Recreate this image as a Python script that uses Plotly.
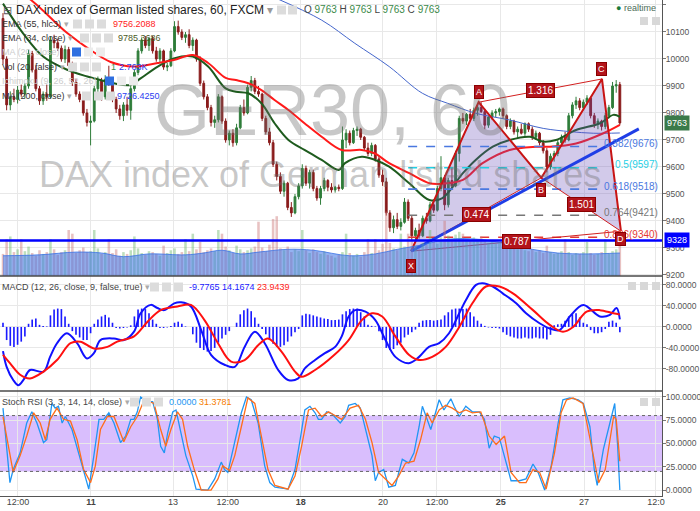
import plotly.graph_objects as go
from plotly.subplots import make_subplots

# ---------------- data ----------------
bars = list(range(170))

opens = [10150, 10000, 9830, 9860, 9850, 9885, 9870, 9900, 10020, 9960,
         9890, 9845, 9870, 9860, 10070, 10060, 10040, 10000, 10035, 9975,
         9915, 9870, 9850, 9800, 9765, 9770, 9890, 9920, 9860, 9925,
         9910, 9850, 9815, 9790, 9830, 9810, 9890, 9950, 10030, 10070,
         10050, 10075, 10030, 10000, 10030, 9970, 9975, 10030, 10120, 10100,
         10080, 10090, 10050, 10070, 10000, 9910, 9860, 9820, 9765, 9775,
         9860, 9770, 9700, 9725, 9690, 9745, 9820, 9800, 9895, 9920,
         9880, 9870, 9780, 9730, 9690, 9610, 9565, 9510, 9540, 9450,
         9430, 9490, 9530, 9595, 9540, 9580, 9520, 9485, 9520, 9550,
         9525, 9515, 9525, 9520, 9700, 9725, 9690, 9735, 9740, 9710,
         9670, 9650, 9680, 9630, 9570, 9545, 9430, 9375, 9405, 9380,
         9395, 9470, 9410, 9345, 9365, 9345, 9410, 9400, 9460, 9440,
         9520, 9560, 9460, 9550, 9530, 9650, 9780, 9770, 9795, 9780,
         9810, 9820, 9805, 9755, 9785, 9800, 9805, 9815, 9790, 9750,
         9770, 9730, 9740, 9725, 9760, 9740, 9710, 9725, 9690, 9660,
         9600, 9640, 9650, 9690, 9710, 9700, 9790, 9830, 9845, 9820,
         9840, 9855, 9790, 9760, 9770, 9750, 9790, 9820, 9900, 9905]

highs = [10170, 10010, 9880, 9890, 9900, 9905, 9910, 10035, 10030, 9975,
         9900, 9880, 9905, 10085, 10090, 10075, 10050, 10050, 10045, 9990,
         9925, 9880, 9860, 9815, 9790, 9900, 9935, 9930, 9940, 9975,
         9920, 9860, 9830, 9840, 9860, 9900, 9960, 10040, 10080, 10085,
         10080, 10085, 10045, 10040, 10035, 9985, 10040, 10140, 10142, 10110,
         10100, 10110, 10080, 10075, 10010, 9920, 9870, 9830, 9790, 9870,
         9865, 9780, 9735, 9740, 9760, 9830, 9850, 9905, 9937, 9930,
         9900, 9875, 9790, 9745, 9700, 9620, 9580, 9550, 9545, 9470,
         9500, 9540, 9610, 9605, 9590, 9590, 9530, 9530, 9560, 9555,
         9540, 9530, 9535, 9750, 9740, 9735, 9745, 9750, 9745, 9715,
         9690, 9690, 9685, 9640, 9590, 9560, 9440, 9420, 9430, 9410,
         9485, 9480, 9420, 9375, 9390, 9420, 9430, 9470, 9480, 9530,
         9640, 9570, 9560, 9600, 9660, 9790, 9800, 9800, 9815, 9820,
         9830, 9840, 9815, 9790, 9810, 9815, 9820, 9820, 9795, 9780,
         9775, 9750, 9760, 9765, 9765, 9750, 9735, 9730, 9700, 9670,
         9650, 9660, 9700, 9720, 9730, 9800, 9840, 9860, 9855, 9850,
         9866, 9860, 9800, 9780, 9775, 9800, 9830, 9915, 9922, 9915]

lows = [9980, 9810, 9810, 9840, 9835, 9860, 9855, 9890, 9950, 9880,
        9830, 9830, 9845, 9855, 10040, 10030, 9990, 9985, 9960, 9900,
        9860, 9840, 9790, 9750, 9680, 9765, 9870, 9845, 9850, 9900,
        9840, 9800, 9775, 9770, 9790, 9775, 9880, 9940, 10020, 10040,
        10030, 10020, 9990, 9985, 9960, 9955, 9970, 10025, 10090, 10070,
        10060, 10040, 10030, 9990, 9900, 9850, 9810, 9750, 9745, 9765,
        9760, 9690, 9680, 9675, 9680, 9740, 9790, 9795, 9880, 9870,
        9860, 9770, 9720, 9680, 9600, 9550, 9500, 9490, 9440, 9415,
        9425, 9480, 9520, 9530, 9520, 9510, 9475, 9460, 9510, 9510,
        9505, 9505, 9510, 9515, 9670, 9680, 9685, 9715, 9700, 9660,
        9640, 9640, 9620, 9560, 9530, 9420, 9360, 9355, 9370, 9365,
        9390, 9400, 9330, 9322, 9335, 9340, 9390, 9395, 9430, 9435,
        9510, 9440, 9450, 9520, 9525, 9620, 9760, 9755, 9770, 9770,
        9790, 9800, 9740, 9745, 9775, 9785, 9790, 9780, 9740, 9740,
        9720, 9705, 9720, 9715, 9730, 9700, 9700, 9680, 9650, 9580,
        9590, 9620, 9640, 9680, 9690, 9695, 9780, 9815, 9810, 9810,
        9830, 9780, 9745, 9740, 9735, 9740, 9780, 9815, 9875, 9755]

closes = [10000, 9830, 9860, 9850, 9885, 9870, 9900, 10020, 9960, 9890,
          9845, 9870, 9860, 10070, 10060, 10040, 10000, 10035, 9975, 9915,
          9870, 9850, 9800, 9765, 9770, 9890, 9920, 9860, 9925, 9910,
          9850, 9815, 9790, 9830, 9810, 9890, 9950, 10030, 10070, 10050,
          10075, 10030, 10000, 10030, 9970, 9975, 10030, 10120, 10100, 10080,
          10090, 10050, 10070, 10000, 9910, 9860, 9820, 9765, 9775, 9860,
          9770, 9700, 9725, 9690, 9745, 9820, 9800, 9895, 9920, 9880,
          9870, 9780, 9730, 9690, 9610, 9565, 9510, 9540, 9450, 9430,
          9490, 9530, 9595, 9540, 9580, 9520, 9485, 9520, 9550, 9525,
          9515, 9525, 9520, 9700, 9725, 9690, 9735, 9740, 9710, 9670,
          9650, 9680, 9630, 9570, 9545, 9430, 9375, 9405, 9380, 9395,
          9470, 9410, 9345, 9365, 9345, 9410, 9400, 9460, 9440, 9520,
          9560, 9460, 9550, 9530, 9650, 9780, 9770, 9795, 9780, 9810,
          9820, 9805, 9755, 9785, 9800, 9805, 9815, 9790, 9750, 9770,
          9730, 9740, 9725, 9760, 9740, 9710, 9725, 9690, 9660, 9600,
          9640, 9650, 9690, 9710, 9700, 9790, 9830, 9845, 9820, 9840,
          9855, 9790, 9760, 9770, 9750, 9790, 9820, 9900, 9905, 9763]

volume_k = [2.4, 4.0, 4.3, 2.6, 2.9, 4.0, 2.7, 3.2, 2.5, 2.2,
            2.8, 2.4, 2.6, 4.0, 2.9, 2.3, 2.6, 2.8, 5.0, 4.6,
            2.5, 2.8, 3.1, 2.6, 2.7, 5.0, 3.0, 2.4, 2.6, 4.0,
            2.5, 2.9, 2.2, 2.6, 2.4, 2.8, 4.3, 3.0, 2.5, 2.3,
            2.7, 2.6, 2.4, 2.2, 3.3, 2.5, 2.8, 3.0, 2.4, 2.6,
            4.0, 2.7, 4.6, 2.9, 3.7, 2.6, 2.8, 3.0, 2.7, 5.0,
            4.6, 3.2, 2.8, 2.5, 3.3, 2.9, 2.6, 2.8, 3.0, 3.2,
            5.9, 3.1, 2.7, 3.4, 6.2, 6.5, 3.0, 2.8, 3.2, 2.6,
            2.9, 2.7, 5.0, 2.8, 2.5, 2.9, 2.6, 2.4, 2.7, 2.3,
            2.2, 2.0, 2.3, 2.6, 4.6, 2.5, 2.2, 2.4, 2.1, 2.6,
            4.0, 2.5, 4.0, 2.8, 3.5, 7.0, 3.6, 3.0, 2.8, 4.6,
            3.2, 4.6, 3.8, 3.3, 3.0, 3.6, 3.4, 5.0, 3.7, 3.5,
            4.2, 6.0, 4.4, 4.0, 4.5, 4.8, 4.6, 4.0, 3.8, 4.2,
            4.0, 4.3, 3.9, 3.6, 3.8, 3.5, 3.7, 3.3, 3.4, 3.1,
            3.2, 2.9, 3.0, 2.8, 2.7, 2.9, 2.6, 2.8, 2.5, 3.3,
            2.6, 2.4, 2.5, 2.7, 4.0, 2.6, 2.3, 2.5, 2.4, 2.6,
            3.7, 2.5, 2.3, 2.4, 2.6, 4.0, 2.5, 2.7, 2.9, 5.0]

volma_x = [0, 10, 20, 27, 33, 40, 50, 55, 60, 65, 70, 78, 85, 95, 102, 108, 115, 122, 130, 138, 145, 152, 160, 169]
volma_y = [2.2, 2.3, 2.6, 2.5, 2.1, 2.4, 2.3, 2.5, 2.8, 2.4, 2.6, 2.9, 2.8, 2.2, 2.4, 2.9, 3.4, 4.0, 4.0, 3.5, 2.9, 2.5, 2.4, 2.5]

ema55_x = [0, 8, 17.6, 24, 29.5, 35.8, 42.4, 46.8, 52, 56.2, 61, 63.8, 67.2, 70.8, 74.4, 78.2, 82.6, 87.3,
           92.8, 98.3, 101.9, 105.8, 111.3, 116.8, 120.4, 126, 131.4, 138.8, 146, 149.9, 157, 164.5, 169]
ema55_y = [10290, 10215, 10096, 10033, 9989, 9972, 9985, 9996, 10015, 9985, 9930, 9922, 9910, 9885, 9848, 9811,
           9762, 9712, 9663, 9663, 9650, 9614, 9577, 9540, 9538, 9552, 9614, 9663, 9675, 9675, 9687, 9725, 9756]

ema34_x = [0, 5.5, 11, 17.6, 23.1, 26.7, 30.3, 35, 37.7, 42.4, 46.8, 52, 56.2, 61, 63.8, 67.2, 70.8, 74.4, 78.2,
           82.6, 87.3, 92, 93.7, 98.3, 102, 105.8, 111.3, 116.8, 120.4, 126, 129.5, 134.2, 138.8, 144.4, 147.9,
           151.5, 157, 163.6, 167.2, 169]
ema34_y = [10205, 10095, 10009, 9960, 9935, 9922, 9910, 9904, 9928, 9972, 10002, 10009, 9972, 9891, 9879, 9873,
           9836, 9762, 9700, 9663, 9626, 9589, 9614, 9638, 9626, 9601, 9540, 9478, 9485, 9577, 9626, 9675, 9700,
           9712, 9694, 9700, 9737, 9762, 9793, 9786]

ma200_x = [74, 87.3, 96.4, 105.8, 114.9, 121.8, 129.5, 138.8, 148, 155.4, 161.7, 169]
ma200_y = [10230, 10144, 10058, 9972, 9873, 9836, 9799, 9774, 9743, 9731, 9725, 9726]

macd_x = [0, 1.0, 2.8, 4.2, 5.6, 7.4, 11.1, 12.9, 14.8, 17.5, 20.3, 23.0, 24.9, 26.7, 30.4, 33.1, 35.9, 37.7,
          40.5, 42.3, 44.2, 46.9, 48.8, 51.5, 54.3, 57.0, 60.7, 63.5, 66.2, 69.0, 71.7, 75.4, 78.1, 80.9, 82.7,
          85.5, 88.2, 91.0, 92.8, 94.7, 96.5, 99.3, 102.0, 104.8, 107.5, 111.2, 114.0, 116.7, 119.5, 122.2,
          125.0, 126.8, 129.6, 131.4, 134.2, 136.9, 140.6, 143.3, 147.0, 149.8, 152.5, 155.3, 159.0, 163.5,
          166.3, 168.1, 169]
macd_y = [-46, -76, -101, -111, -101, -82, -85, -57, -31, -12, -31, -60, -50, -25, -22, -25, -9, 26, 42, 36, 32,
          45, 47, 39, -6, -53, -72, -76, -38, -9, -31, -82, -101, -98, -79, -63, -50, -38, -18, 20, 32, 29, 13,
          -25, -57, -69, -57, -38, -31, -12, 26, 51, 80, 83, 77, 64, 45, 26, 7, -3, -6, 20, 42, 20, 23, 36, 14.2]

signal_x = [0, 1.9, 4.7, 7.4, 11.1, 14.8, 18.5, 21.2, 24.9, 28.6, 31.3, 35.9, 39.6, 43.2, 47.8, 51.5, 55.2,
            58.9, 62.5, 66.2, 69.9, 72.6, 76.3, 80.0, 81.8, 85.5, 90.5, 94.7, 98.3, 101.1, 103.9, 107.5, 111.2,
            114.0, 117.6, 121.3, 125.0, 128.6, 132.3, 136.0, 139.7, 145.2, 149.8, 153.4, 156.2, 159.9, 163.5,
            167.2, 169]
signal_y = [-53, -69, -91, -98, -85, -63, -31, -28, -41, -38, -28, -18, 10, 32, 39, 42, 13, -31, -66, -63, -35,
            -22, -47, -85, -95, -82, -55, -25, 13, 26, 20, -18, -53, -63, -57, -38, 0, 45, 77, 77, 64, 32, 4,
            -9, 0, 29, 32, 26, 23.9]

macd_hist = [8, -25, -36, -38, -34, -28, -18, 6, 14, 16,
             4, 2, 1, 22, 33, 35, 34, 20, 6, -8,
             -15, -20, -25, -25, -12, 6, 14, 20, 23, 18,
             8, -2, -3, -2, -1, 3, 20, 33, 35, 34,
             26, 14, 6, -2, -2, -1, 2, 8, 10, 6,
             1, 0, -14, -30, -40, -44, -47, -46, -40, -30,
             -22, -15, -8, 0, 8, 24, 32, 35, 30, 18,
             6, -4, -14, -24, -32, -38, -38, -35, -28, -18,
             -10, -4, 22, 25, 24, 22, 20, 18, 16, 15,
             13, 13, 14, 24, 30, 34, 35, 35, 28, 20,
             4, 2, 1, -8, -25, -40, -44, -42, -35, -30,
             -20, -15, -10, -5, 8, 12, 13, 13, 12, 13,
             14, 22, 28, 33, 35, 35, 34, 35, 28, 20,
             12, 6, 2, -1, -2, -2, -3, -10, -15, -18,
             -20, -22, -22, -20, -22, -22, -20, -22, -22, -24,
             -15, 3, 5, 6, 12, 20, 24, 26, 18, 8,
             5, -6, -12, -12, -10, -4, 10, 12, 8, -10]

stoch_k_x = [0, 1.0, 1.9, 2.8, 4.7, 6.5, 7.9, 9.3, 11.1, 12.0,
             13.4, 14.3, 15.2, 16.2, 17.1, 18.9, 21.2, 22.6, 23.5, 24.9,
             26.3, 27.6, 29.0, 30.4, 32.2, 33.6, 35.0, 35.9, 36.8, 37.7,
             39.6, 41.0, 42.3, 43.2, 44.2, 45.1, 46.5, 47.4, 48.8, 50.1,
             52.0, 52.9, 56.1, 58.0, 59.8, 60.7, 61.6, 63.5, 65.3, 66.7,
             68.0, 69.9, 71.7, 73.1, 74.5, 78.1, 80.0, 81.4, 82.7, 84.1,
             85.5, 86.4, 87.3, 88.7, 90.1, 92.4, 93.8, 94.7, 96.5, 97.9,
             99.3, 101.1, 102.0, 102.9, 104.3, 105.7, 107.5, 109.4, 111.2, 112.6,
             114.0, 114.9, 116.2, 117.2, 118.5, 119.5, 120.8, 122.7, 123.6, 125.0,
             126.8, 128.6, 130.5, 131.9, 133.2, 134.6, 136.0, 137.4, 139.2, 141.5,
             143.3, 145.2, 146.6, 148.4, 150.2, 152.1, 153.4, 155.3, 157.6, 159.0,
             160.8, 162.0, 162.8, 164.5, 166.3, 167.6, 168.4, 169]
stoch_k_y = [88, 44, 8, 22, 40, 72, 84, 72, 51, 54,
             93, 88, 90, 72, 79, 65, 33, 12, 1, 37,
             76, 76, 83, 72, 51, 58, 76, 76, 84, 100,
             95, 95, 76, 47, 40, 61, 84, 86, 61, 37,
             15, 1, 0, 12, 30, 22, 19, 51, 83, 100,
             97, 72, 26, 8, 3, 1, 22, 54, 86, 90,
             83, 76, 76, 84, 82, 72, 79, 91, 93, 88,
             65, 37, 10, 19, 22, 3, 5, 33, 29, 40,
             68, 90, 76, 65, 83, 97, 86, 98, 90, 79,
             90, 84, 84, 76, 45, 58, 56, 37, 10, 10,
             12, 28, 19, 0, 26, 72, 97, 99, 97, 93,
             68, 22, 5, 44, 72, 93, 47, 0]

stoch_d_x = [0, 1.0, 2.8, 4.7, 6.5, 8.4, 10.2, 11.6, 12.9, 14.8,
             16.6, 18.5, 20.3, 22.1, 24.0, 25.3, 26.7, 28.6, 30.4, 33.1,
             35.0, 36.8, 38.7, 41.4, 43.2, 44.6, 46.0, 47.8, 49.2, 50.6,
             52.4, 54.3, 57.0, 58.9, 60.2, 62.1, 63.5, 65.3, 67.1, 69.0,
             70.8, 72.6, 74.5, 78.1, 80.0, 81.8, 83.7, 85.5, 87.3, 89.2,
             90.1, 92.8, 95.1, 97.4, 99.3, 101.1, 102.9, 104.8, 106.6, 108.4,
             110.3, 112.6, 114.4, 116.2, 117.6, 119.5, 121.3, 123.1, 125.0, 126.8,
             128.6, 130.9, 133.2, 135.1, 137.4, 139.2, 141.5, 143.3, 145.2, 147.0,
             148.8, 151.1, 152.9, 154.4, 156.2, 158.9, 161.5, 163.2, 165.0, 167.3,
             168.0, 169]
stoch_d_y = [79, 58, 19, 37, 58, 83, 72, 54, 76, 88,
             76, 74, 54, 22, 8, 26, 65, 79, 79, 52,
             68, 79, 97, 93, 65, 47, 65, 84, 76, 47,
             22, 0, 0, 12, 26, 21, 37, 68, 99, 93,
             58, 22, 5, 1, 15, 47, 86, 88, 79, 84,
             82, 76, 88, 91, 76, 51, 19, 12, 5, 15,
             29, 31, 54, 83, 72, 86, 91, 88, 83, 86,
             83, 84, 58, 49, 58, 19, 8, 8, 22, 19,
             1, 40, 83, 97, 99, 93, 40, 8, 22, 79,
             76, 31]

# harmonic XABCD pattern (bar position, price)
pattern_names = ["X", "A", "B", "C", "D"]
pattern_x = [111.8, 130.3, 147.5, 164.1, 169.3]
pattern_y = [9288, 9840, 9560, 9926, 9362]
ratio_pairs = [(0, 2, "0.474"), (1, 3, "1.316"), (2, 4, "1.501"), (0, 4, "0.787")]

fib_ratios = ["0.382", "0.5", "0.618", "0.764", "0.886"]
fib_levels = [9676, 9597, 9518, 9421, 9340]
fib_colors = ["#4a78e0", "#1fd0e6", "#4a78e0", "#777777", "#e53935"]
fib_x = [111.0, 164.4]

trend_x = [111.8, 174.2]
trend_y = [9288, 9741]

support_level = 9328
last_price = 9763

tick_pos = [4.1, 24.1, 46.6, 61.6, 81.6, 104.1, 118.9, 136.4, 159.2, 178.9]
tick_text = ["12:00", "<b>11</b>", "13", "12:00", "<b>18</b>", "20", "12:00", "<b>25</b>", "27", "12:0"]

price_ticks = [9200, 9300, 9400, 9500, 9600, 9700, 9800, 9900, 10000, 10100, 10200]
macd_ticks = [-80, -40, 0, 40, 80]
stoch_ticks = [0, 25, 50, 75, 100]

# ---------------- styling ----------------
FONT = "Liberation Sans, Arial, sans-serif"
UP = "#2f7d3a"
DN = "#8a1c1c"
GRID = "#e8e8e8"
PW, PH = 662.0, 496.0


def px(x):
    return x / PW


def py(y):
    return 1 - y / PH


D_MAIN = [1 - 276 / PH, 1.0]
D_MACD = [1 - 391 / PH, 1 - 276 / PH]
D_STOCH = [0.0, 1 - 391 / PH]

fig = make_subplots(rows=3, cols=1, shared_xaxes=True, vertical_spacing=0,
                    specs=[[{"secondary_y": True}], [{}], [{}]])

# volume + volume MA (secondary axis of the price panel)
vol_colors = ["rgba(110,185,110,0.45)" if c >= o else "rgba(205,120,120,0.45)"
              for o, c in zip(opens, closes)]
fig.add_trace(go.Bar(x=bars, y=volume_k, marker=dict(color=vol_colors, line=dict(width=0)),
                     width=0.7, hoverinfo="skip"), row=1, col=1, secondary_y=True)
fig.add_trace(go.Scatter(x=volma_x, y=volma_y, mode="lines", fill="tozeroy",
                         fillcolor="rgba(60,115,230,0.55)",
                         line=dict(color="rgba(60,115,230,0.8)", width=1, shape="spline"),
                         hoverinfo="skip"), row=1, col=1, secondary_y=True)

# candles
fig.add_trace(go.Candlestick(x=bars, open=opens, high=highs, low=lows, close=closes,
                             increasing=dict(line=dict(color=UP, width=1), fillcolor=UP),
                             decreasing=dict(line=dict(color=DN, width=1), fillcolor=DN),
                             whiskerwidth=0, hoverinfo="skip"), row=1, col=1, secondary_y=False)

# moving averages
fig.add_trace(go.Scatter(x=ma200_x, y=ma200_y, mode="lines",
                         line=dict(color="#4466cc", width=1, shape="spline")), row=1, col=1)
fig.add_trace(go.Scatter(x=ema34_x, y=ema34_y, mode="lines",
                         line=dict(color="#1e5b1e", width=2, shape="spline")), row=1, col=1)
fig.add_trace(go.Scatter(x=ema55_x, y=ema55_y, mode="lines",
                         line=dict(color="#ff1a1a", width=2, shape="spline")), row=1, col=1)

# pattern fills
tri1 = [0, 1, 2, 0]
tri2 = [2, 3, 4, 2]
for tri in (tri1, tri2):
    fig.add_trace(go.Scatter(x=[pattern_x[i] for i in tri], y=[pattern_y[i] for i in tri],
                             mode="lines", fill="toself", fillcolor="rgba(105,80,185,0.30)",
                             line=dict(width=0), hoverinfo="skip"), row=1, col=1)

# fib levels
for lvl, col in zip(fib_levels, fib_colors):
    fig.add_trace(go.Scatter(x=fib_x, y=[lvl, lvl], mode="lines",
                             line=dict(color=col, width=1.6, dash="dash")), row=1, col=1)

# pattern lines
for a, b, _ in ratio_pairs:
    fig.add_trace(go.Scatter(x=[pattern_x[a], pattern_x[b]], y=[pattern_y[a], pattern_y[b]],
                             mode="lines", line=dict(color="#d21f1f", width=1)), row=1, col=1)
fig.add_trace(go.Scatter(x=pattern_x, y=pattern_y, mode="lines",
                         line=dict(color="#c81414", width=2)), row=1, col=1)

# trend line
fig.add_trace(go.Scatter(x=trend_x, y=trend_y, mode="lines",
                         line=dict(color="#1f3ee6", width=3)), row=1, col=1)

# MACD
fig.add_trace(go.Bar(x=bars, y=macd_hist, marker=dict(color="#1a1aff", line=dict(width=0)),
                     width=0.45, hoverinfo="skip"), row=2, col=1)
fig.add_trace(go.Scatter(x=macd_x, y=macd_y, mode="lines",
                         line=dict(color="#1010ff", width=2, shape="spline")), row=2, col=1)
fig.add_trace(go.Scatter(x=signal_x, y=signal_y, mode="lines",
                         line=dict(color="#ff1010", width=2, shape="spline")), row=2, col=1)

# Stoch RSI
fig.add_trace(go.Scatter(x=stoch_k_x, y=stoch_k_y, mode="lines",
                         line=dict(color="#2196f3", width=1.3)), row=3, col=1)
fig.add_trace(go.Scatter(x=stoch_d_x, y=stoch_d_y, mode="lines",
                         line=dict(color="#ff6d1a", width=1.3)), row=3, col=1)

# ---------------- axes ----------------
fig.update_xaxes(domain=[0, 1], range=[-0.82, 180.55], tickvals=tick_pos, ticktext=tick_text,
                 showgrid=True, gridcolor=GRID, gridwidth=1, zeroline=False, automargin=False,
                 rangeslider_visible=False, showticklabels=False, showline=False)
fig.update_xaxes(row=3, col=1, showticklabels=True, ticks="", ticklen=0, ticklabelstandoff=-3,
                 showline=True, linecolor="#555", linewidth=1,
                 tickfont=dict(size=9, color="#444", family=FONT))

axis_common = dict(side="right", showgrid=True, gridcolor=GRID, zeroline=False, automargin=False,
                   ticks="outside", ticklen=3, tickcolor="#777", showline=True,
                   linecolor="#555", linewidth=1, ticklabelstandoff=-2,
                   tickfont=dict(size=8.5, color="#555", family=FONT))
fig.update_yaxes(row=1, col=1, secondary_y=False, domain=D_MAIN, range=[9196.2, 10218.5],
                 tickvals=price_ticks, ticktext=[str(v) for v in price_ticks], **axis_common)
fig.update_yaxes(row=1, col=1, secondary_y=True, range=[0, 30], visible=False,
                 showgrid=False, domain=D_MAIN, automargin=False)
fig.update_yaxes(row=2, col=1, domain=D_MACD, range=[-122, 97], tickvals=macd_ticks,
                 ticktext=["%.4f" % v for v in macd_ticks], **axis_common)
fig.update_yaxes(row=3, col=1, domain=D_STOCH, range=[-6.4, 106.4], tickvals=stoch_ticks,
                 ticktext=["%.4f" % v for v in stoch_ticks], **axis_common)

# ---------------- shapes ----------------
shapes = []
shapes.append(dict(type="rect", xref="paper", yref="y4", x0=0, x1=1, y0=20, y1=80,
                   fillcolor="rgba(170,110,250,0.45)", line=dict(width=0), layer="below"))
for lv in (20, 80):
    shapes.append(dict(type="line", xref="paper", yref="y4", x0=0, x1=1, y0=lv, y1=lv,
                       line=dict(color="#666", width=1, dash="dot")))
shapes.append(dict(type="line", xref="paper", yref="y", x0=0, x1=1, y0=support_level,
                   y1=support_level, line=dict(color="#0000ff", width=2.5)))
for yb in (D_MAIN[0], D_MACD[0]):
    shapes.append(dict(type="line", xref="paper", yref="paper", x0=0, x1=1.0, y0=yb, y1=yb,
                       line=dict(color="#4a4a4a", width=1.5)))


def icon(xp, yp, color="#dcdcdc", size=9):
    shapes.append(dict(type="rect", xref="paper", yref="paper", x0=px(xp), x1=px(xp + size),
                       y0=py(yp + size / 2), y1=py(yp - size / 2), fillcolor=color,
                       line=dict(width=0), layer="above"))


for xi in (277, 288):
    icon(xi, 10)
for xi in (73, 85, 97):
    icon(xi, 24)
for xi in (80, 92, 104):
    icon(xi, 38)
icon(72, 52, "#2f6fe0")
for xi in (84, 96):
    icon(xi, 52, "#ececec")
for xi in (68, 80, 92):
    icon(xi, 67)
icon(105, 81, "#2f6fe0")
for xi in (117, 129):
    icon(xi, 81, "#ececec")
for xi in (82, 94, 106):
    icon(xi, 96)
for xi in (150, 162, 174):
    icon(xi, 287)
for xi in (130, 142, 154):
    icon(xi, 402)
for xi in (640, 652):
    icon(xi, 21, "#d8d8d8", 8)
for xi in (628, 640, 652):
    icon(xi, 286, "#d8d8d8", 8)
for xi in (640, 652):
    icon(xi, 402, "#d8d8d8", 8)

# ---------------- annotations ----------------
ann = []


def txt(xp, yp, s, color="#333", size=9, xanchor="left"):
    ann.append(dict(xref="paper", yref="paper", x=px(xp), y=py(yp), text=s, showarrow=False,
                    xanchor=xanchor, yanchor="middle",
                    font=dict(family=FONT, size=size, color=color)))


txt(332, 110, "GER30, 60", "rgba(110,110,110,0.38)", 72, "center")
txt(320, 175, "DAX index of German listed shares", "rgba(110,110,110,0.38)", 36, "center")

txt(1, 10, "⊟", "#555", 11)
txt(14, 10, "DAX index of German listed shares, 60, FXCM <span style='color:#999'>▾</span>", "#222", 12)
g = "#3a8a4a"
txt(302, 10, "O <span style='color:%s'>9763</span> H <span style='color:%s'>9763</span> "
             "L <span style='color:%s'>9763</span> C <span style='color:%s'>9763</span>" % (g, g, g, g),
    "#444", 10)
txt(0, 24, "EMA (55, hlc3) <span style='color:#aaa'>▾</span>", "#333", 9)
txt(111, 24, "9756.2088", "#ff1a1a", 9)
txt(0, 38, "EMA (34, close) <span style='color:#aaa'>▾</span>", "#333", 9)
txt(116, 38, "9785.3686", "#4b5a1e", 9)
txt(0, 52, "MA (20, close)", "#cccccc", 9)
txt(0, 67, "Vol (20, false) <span style='color:#aaa'>▾</span>", "#333", 9)
txt(109, 67, "1", "#3a8a4a", 9)
txt(117, 67, "2.763K", "#2a3cf0", 9)
txt(0, 81, "Ichimoku (9, 26, 52, 26)", "#cccccc", 9)
txt(0, 96, "MA (200, close) <span style='color:#aaa'>▾</span>", "#333", 9)
txt(115, 96, "9726.4250", "#2a3cf0", 9)

txt(0, 287, "MACD (12, 26, close, 9, false, true) <span style='color:#aaa'>▾</span>", "#444", 9)
txt(187, 287, "-9.7765", "#1a1aff", 9)
txt(220, 287, "14.1674", "#1a1aff", 9)
txt(255, 287, "23.9439", "#ff1a1a", 9)

txt(0, 402, "Stoch RSI (3, 3, 14, 14, close) <span style='color:#aaa'>▾</span>", "#444", 9)
txt(167, 402, "0.0000", "#2196f3", 9)
txt(197, 402, "31.3781", "#f57c00", 9)

txt(658, 8, "<span style='color:#1b7a3a'>●</span> realtime", "#4a6a55", 9, "right")

for r, lvl, col in zip(fib_ratios, fib_levels, fib_colors):
    ann.append(dict(xref="x", yref="y", x=180.0, y=lvl, text="%s(%d)" % (r, lvl), showarrow=False,
                    xanchor="right", yanchor="middle", yshift=3,
                    font=dict(family=FONT, size=10, color=col)))

for a, b, lab in ratio_pairs:
    ann.append(dict(xref="x", yref="y", x=(pattern_x[a] + pattern_x[b]) / 2,
                    y=(pattern_y[a] + pattern_y[b]) / 2, text=lab, showarrow=False,
                    bgcolor="#b3141b", bordercolor="#8a0000", borderpad=1,
                    font=dict(family=FONT, size=10, color="white")))

shifts = [-15, 10, -12, 10, -8]
for name, xv, yv, s in zip(pattern_names, pattern_x, pattern_y, shifts):
    ann.append(dict(xref="x", yref="y", x=xv, y=yv, text=name, showarrow=False, yshift=s,
                    bgcolor="#b3141b", bordercolor="#8a0000", borderpad=1,
                    font=dict(family=FONT, size=9, color="white")))

for val, bg in ((last_price, "#3a7a4a"), (support_level, "#0000ff")):
    ann.append(dict(xref="paper", yref="y", x=1.0, y=val, text=str(val), showarrow=False,
                    xanchor="left", xshift=2, bgcolor=bg, borderpad=2,
                    font=dict(family=FONT, size=9, color="white")))

fig.update_layout(width=700, height=511, margin=dict(l=0, r=38, t=0, b=15, autoexpand=False),
                  paper_bgcolor="white", plot_bgcolor="white", showlegend=False,
                  hovermode=False, font=dict(family=FONT, size=9, color="#555"),
                  shapes=shapes, annotations=ann)

fig.write_html("out.html", config={"displayModeBar": False, "staticPlot": True},
               post_script="document.body.style.margin='0';document.body.style.padding='0';"
                           "document.body.style.overflow='hidden';")
